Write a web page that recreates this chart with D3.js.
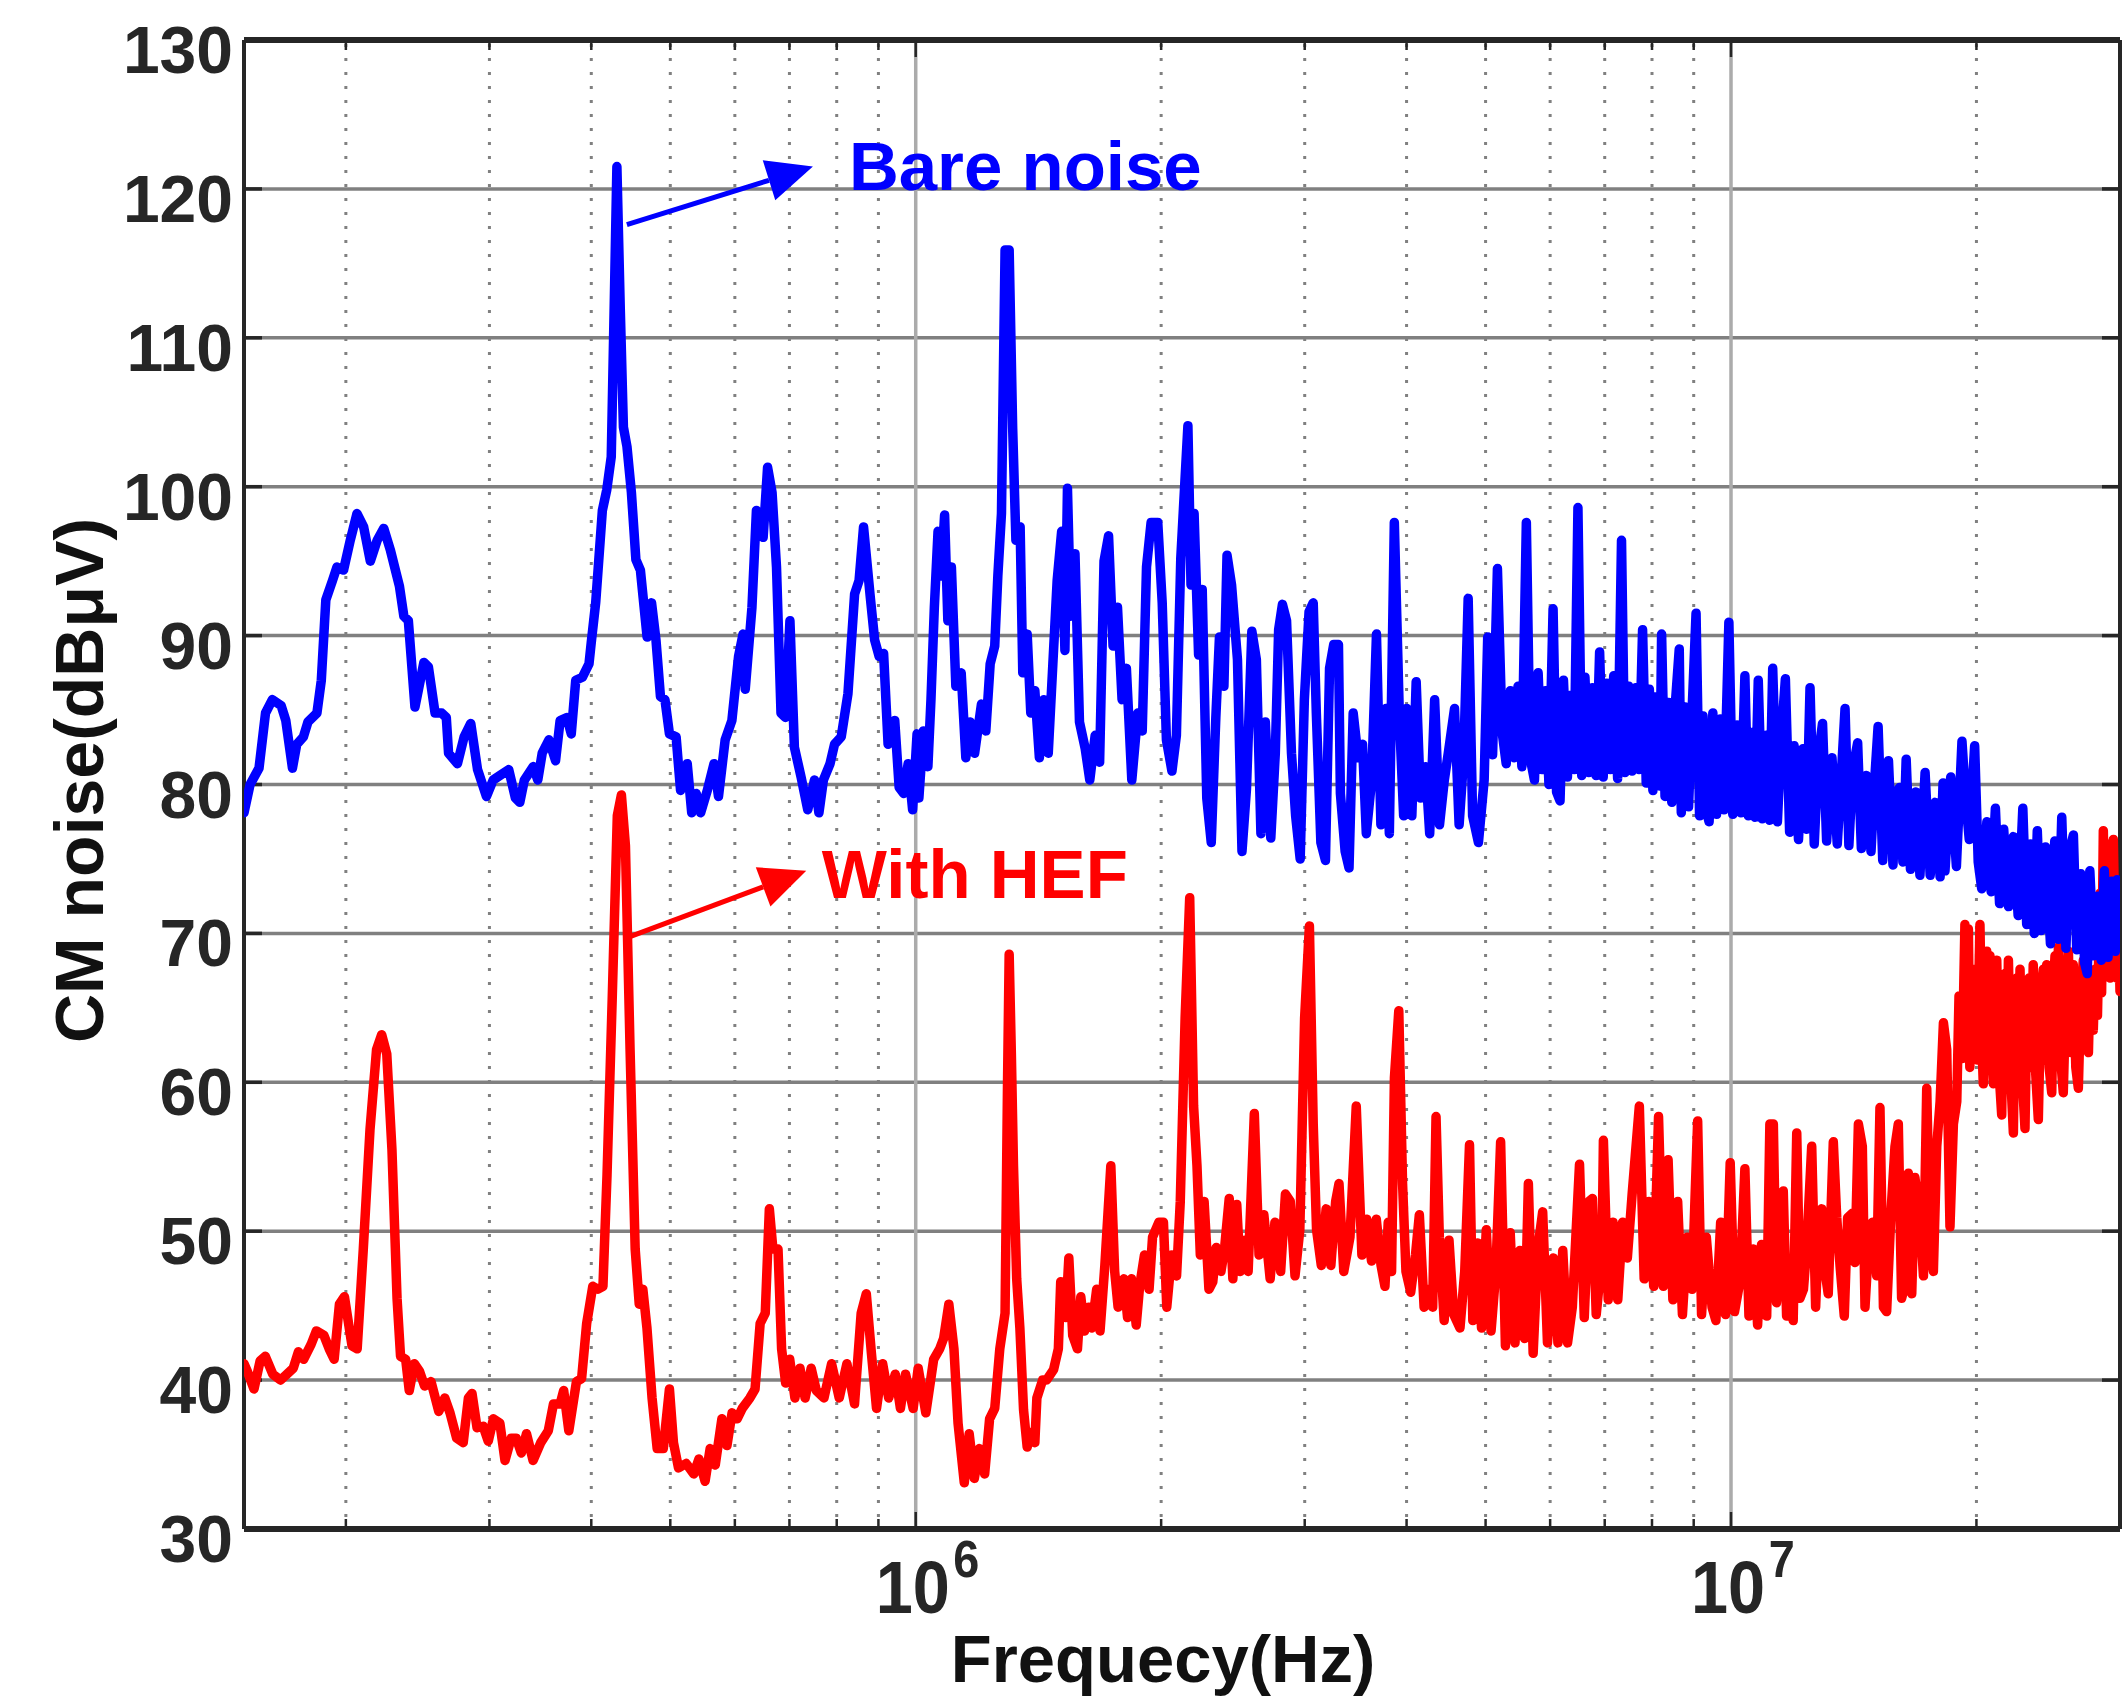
<!DOCTYPE html>
<html>
<head>
<meta charset="utf-8">
<script src="https://cdn.jsdelivr.net/npm/d3@7/dist/d3.min.js"></script>
<style>
  body { margin: 0; background: #fff; }
  text { font-family: "Liberation Sans", Arial, Helvetica, sans-serif; }
</style>
</head>
<body>
<div id="chart"></div>
<script>
// CM noise spectra: [frequency in MHz, level in dBuV]
var bareNoise = [
  [0.1500,78.1],[0.1526,80.0],[0.1565,81.1],[0.1594,84.8],[0.1625,85.7],[0.1666,85.3],[0.1688,84.3],[0.1720,81.1],
  [0.1741,82.7],[0.1774,83.2],[0.1797,84.2],[0.1843,84.8],[0.1866,87.0],[0.1890,92.4],[0.1926,93.7],[0.1950,94.6],
  [0.1987,94.4],[0.2025,96.4],[0.2064,98.2],[0.2103,97.3],[0.2143,95.0],[0.2185,96.4],[0.2226,97.2],[0.2269,95.7],
  [0.2327,93.3],[0.2356,91.3],[0.2386,91.0],[0.2431,85.2],[0.2493,88.2],[0.2525,87.9],[0.2573,84.8],[0.2622,84.8],
  [0.2656,84.5],[0.2673,82.1],[0.2741,81.4],[0.2793,83.2],[0.2846,84.1],[0.2901,81.0],[0.2975,79.2],[0.3032,80.3],
  [0.3090,80.6],[0.3168,81.0],[0.3228,79.1],[0.3269,78.8],[0.3311,80.3],[0.3395,81.2],[0.3439,80.3],[0.3482,82.1],
  [0.3549,83.0],[0.3616,81.6],[0.3663,84.3],[0.3733,84.5],[0.3780,83.4],[0.3828,87.0],[0.3900,87.2],[0.3974,88.1],
  [0.3999,89.5],[0.4050,92.2],[0.4127,98.4],[0.4179,99.8],[0.4232,102.0],[0.4260,110.0],[0.4300,121.5],[0.4341,112.0],
  [0.4380,104.0],[0.4424,102.7],[0.4480,99.6],[0.4537,95.1],[0.4595,94.4],[0.4683,89.9],[0.4742,92.2],[0.4802,89.7],
  [0.4863,85.9],[0.4925,85.7],[0.4988,83.4],[0.5083,83.2],[0.5147,79.6],[0.5245,81.4],[0.5312,78.1],[0.5379,79.4],
  [0.5447,78.1],[0.5551,79.6],[0.5657,81.4],[0.5729,79.2],[0.5838,83.0],[0.5950,84.3],[0.6063,88.6],[0.6140,90.1],
  [0.6179,86.4],[0.6297,91.9],[0.6377,98.4],[0.6499,96.6],[0.6581,101.3],[0.6665,99.6],[0.6749,94.6],[0.6835,84.8],
  [0.6922,84.5],[0.7010,91.0],[0.7099,82.5],[0.7234,80.5],[0.7372,78.3],[0.7513,80.3],[0.7608,78.1],[0.7705,80.3],
  [0.7851,81.4],[0.7951,82.7],[0.8103,83.2],[0.8258,86.1],[0.8415,92.8],[0.8522,93.7],[0.8630,97.3],[0.8795,92.6],
  [0.8905,89.7],[0.9019,88.6],[0.9133,88.8],[0.9249,82.7],[0.9425,84.3],[0.9543,79.8],[0.9665,79.4],[0.9788,81.4],
  [0.9913,78.3],[1.0038,83.4],
  [1.009,79.1],[1.022,83.6],[1.035,81.2],[1.044,85.7],[1.054,91.9],[1.065,97.0],[1.074,94.0],[1.085,98.1],
  [1.095,91.0],[1.106,94.6],[1.120,86.6],[1.137,87.5],[1.152,81.8],[1.166,84.2],[1.181,82.1],[1.204,85.4],
  [1.219,83.6],[1.234,88.1],[1.250,89.3],[1.261,94.0],[1.274,98.2],[1.287,115.9],[1.302,115.9],[1.315,103.9],
  [1.327,96.4],[1.343,97.3],[1.353,87.5],[1.370,90.1],[1.384,84.8],[1.400,86.3],[1.418,81.8],[1.436,85.7],
  [1.454,82.1],[1.473,88.1],[1.491,93.7],[1.510,97.0],[1.524,89.0],[1.535,99.9],[1.549,91.3],[1.568,95.5],
  [1.588,84.2],[1.614,82.4],[1.635,80.3],[1.660,83.3],[1.681,81.5],[1.702,95.0],[1.724,96.7],[1.746,89.3],
  [1.768,91.9],[1.791,85.7],[1.813,87.8],[1.841,80.3],[1.872,84.8],[1.896,83.6],[1.919,94.6],[1.944,97.6],
  [1.981,97.6],[2.006,92.2],[2.030,83.0],[2.062,80.9],[2.088,83.3],[2.114,95.2],[2.157,104.1],[2.176,93.4],
  [2.195,98.2],[2.223,88.7],[2.246,93.1],[2.275,79.1],[2.304,76.1],[2.334,84.5],[2.358,89.9],[2.388,86.6],
  [2.409,95.4],[2.440,93.4],[2.481,88.4],[2.513,75.5],[2.545,79.7],[2.584,90.3],[2.617,88.4],[2.651,76.7],
  [2.684,84.2],[2.726,76.4],[2.761,82.1],[2.787,90.4],[2.817,92.1],[2.850,91.0],[2.890,82.1],[2.924,77.9],
  [2.962,75.0],[2.997,85.7],[3.037,91.6],[3.073,92.2],[3.100,84.8],[3.140,76.1],[3.181,74.9],[3.218,87.8],
  [3.256,89.4],[3.300,89.4],[3.318,79.4],[3.363,75.5],[3.400,74.4],[3.440,84.8],[3.488,81.8],[3.532,82.7],
  [3.570,76.7],[3.624,80.3],[3.674,90.1],[3.720,77.3],[3.774,85.1],[3.810,76.7],[3.864,97.6],[3.920,84.5],
  [3.967,77.9],[4.000,85.1],[4.060,77.9],[4.110,86.9],[4.160,79.1],[4.220,81.2],[4.270,76.7],[4.330,85.7],
  [4.390,77.3],[4.450,80.3],[4.500,82.1],[4.580,85.1],[4.640,77.3],[4.700,81.8],[4.760,92.5],[4.820,77.9],
  [4.900,76.1],[4.980,80.3],[5.030,89.9],
  [5.10,82.0],[5.17,94.5],[5.24,83.5],[5.30,81.4],[5.36,86.3],[5.42,81.8],[5.48,86.6],[5.54,81.2],
  [5.61,97.6],[5.67,81.8],[5.74,80.3],[5.80,87.5],[5.86,81.0],[5.92,86.3],[5.98,80.0],[6.05,91.8],
  [6.11,79.5],[6.17,78.9],[6.23,87.0],[6.30,80.5],[6.36,86.0],[6.42,81.0],[6.49,98.6],[6.56,80.6],
  [6.62,87.2],[6.69,80.8],[6.76,86.5],[6.83,80.6],[6.90,88.9],[6.97,80.5],[7.04,86.8],[7.11,81.0],
  [7.18,87.3],[7.26,80.4],[7.34,96.4],[7.41,80.8],[7.49,86.6],[7.56,80.9],[7.64,86.5],[7.71,81.0],
  [7.79,90.4],[7.87,80.1],[7.94,86.4],[8.02,79.6],[8.10,85.9],[8.18,79.9],[8.22,90.1],[8.30,79.2],
  [8.38,85.5],[8.46,78.8],[8.55,85.6],[8.64,89.1],[8.69,78.1],[8.78,85.2],[8.87,78.5],[8.96,85.0],
  [9.06,91.5],[9.15,77.9],[9.24,84.6],[9.33,78.2],[9.40,77.5],[9.50,84.8],[9.60,78.0],[9.70,84.4],
  [9.80,78.3],[9.94,90.9],[10.05,78.0],[10.17,84.0],[10.28,78.1],[10.40,87.3],[10.50,77.9],[10.60,83.5],
  [10.70,77.8],[10.80,87.0],[10.92,77.7],[11.05,83.3],[11.15,77.6],[11.25,87.8],[11.40,77.5],[11.52,83.0],
  [11.66,87.1],[11.80,76.8],[11.95,82.6],[12.10,76.3],[12.25,82.4],[12.38,77.0],[12.50,86.5],[12.65,76.0],
  [12.80,82.0],[12.95,84.1],[13.10,76.2],[13.30,81.8],[13.50,76.0],[13.65,80.5],[13.80,85.1],[13.95,75.9],
  [14.10,81.0],[14.30,82.8],[14.45,75.7],[14.65,80.6],[14.85,75.5],[15.00,80.2],[15.15,83.9],[15.35,74.9],
  [15.45,80.0],[15.60,81.6],[15.80,74.6],[15.95,79.5],[16.10,79.8],[16.25,74.8],[16.40,81.7],[16.60,74.3],
  [16.85,79.5],[17.05,73.9],[17.30,80.8],[17.55,73.9],[17.80,78.8],[18.05,73.8],[18.20,80.1],[18.30,74.2],
  [18.60,80.5],[18.90,74.5],[19.20,82.9],[19.40,79.0],[19.60,76.3],[19.90,82.6],[20.10,74.8],[20.30,73.0],
  [20.60,77.5],[20.85,72.8],[21.10,78.4],[21.35,72.0],[21.60,77.0],[21.90,71.8],[22.20,76.5],[22.50,71.2],
  [22.80,78.4],[23.05,70.6],[23.30,76.0],[23.55,70.0],[23.75,76.9],[24.00,70.2],[24.30,75.8],[24.65,69.3],
  [24.95,76.2],[25.20,69.6],[25.45,77.8],[25.75,69.0],[26.00,75.5],[26.30,76.6],[26.55,68.9],[26.85,74.0],
  [27.15,68.0],[27.35,67.3],[27.55,74.2],[27.85,68.5],[28.20,72.5],[28.45,68.2],[28.70,74.2],[29.00,68.4],
  [29.30,73.5],[29.60,68.8],[29.75,73.6],[30.00,70.5]
];

var withHef = [
  [0.1500,41.1],[0.1514,40.6],[0.1543,39.4],[0.1570,41.3],[0.1593,41.6],[0.1627,40.4],[0.1663,40.0],[0.1724,40.8],
  [0.1749,41.9],[0.1775,41.4],[0.1813,42.4],[0.1840,43.3],[0.1880,43.0],[0.1908,42.1],[0.1935,41.4],[0.1964,45.1],
  [0.1992,45.6],[0.2035,42.3],[0.2065,42.1],[0.2101,48.8],[0.2141,56.8],[0.2181,62.2],[0.2213,63.2],[0.2245,61.9],
  [0.2278,55.5],[0.2311,45.5],[0.2334,41.6],[0.2368,41.4],[0.2392,39.3],[0.2427,41.1],[0.2462,40.6],[0.2498,39.6],
  [0.2544,39.9],[0.2600,37.9],[0.2645,38.8],[0.2684,37.8],[0.2735,36.1],[0.2786,35.8],[0.2827,38.8],[0.2856,39.1],
  [0.2897,36.8],[0.2947,36.9],[0.2990,35.9],[0.3034,37.4],[0.3090,37.1],[0.3135,34.6],[0.3190,36.1],[0.3236,36.1],
  [0.3283,35.1],[0.3331,36.4],[0.3394,34.6],[0.3468,35.8],[0.3543,36.6],[0.3595,38.4],[0.3663,38.4],[0.3700,39.3],
  [0.3754,36.6],[0.3836,39.9],[0.3892,40.1],[0.3948,43.8],[0.4017,46.3],[0.4075,46.1],[0.4134,46.3],[0.4182,53.8],
  [0.4243,65.5],[0.4305,77.9],[0.4355,79.3],[0.4405,75.9],[0.4463,62.2],[0.4528,48.8],[0.4580,45.1],[0.4627,46.1],
  [0.4681,43.5],[0.4749,38.8],[0.4818,35.4],[0.4902,35.4],[0.4988,39.4],[0.5045,35.8],[0.5117,34.1],[0.5229,34.4],
  [0.5343,33.7],[0.5421,34.7],[0.5516,33.2],[0.5596,35.4],[0.5677,34.3],[0.5784,37.4],[0.5868,35.6],[0.5953,37.8],
  [0.6039,37.4],[0.6127,38.1],[0.6261,38.8],[0.6352,39.4],[0.6444,43.8],[0.6538,44.5],[0.6614,51.5],[0.6681,48.8],
  [0.6778,48.8],[0.6847,42.1],[0.6926,39.8],[0.7006,41.4],[0.7109,38.8],[0.7212,40.8],[0.7317,38.8],[0.7444,40.8],
  [0.7552,39.3],[0.7717,38.8],[0.7885,41.1],[0.8057,38.8],[0.8233,41.1],[0.8413,38.4],[0.8572,44.5],[0.8697,45.8],
  [0.8824,41.8],[0.8952,38.1],[0.9109,41.1],[0.9265,38.8],[0.9440,40.4],[0.9577,38.1],[0.9716,40.4],[0.9928,38.1],
  [1.007,40.8],[1.029,37.8],[1.052,41.4],[1.070,42.1],[1.082,42.8],[1.098,45.1],[1.114,42.1],[1.127,37.1],
  [1.147,33.1],[1.163,36.4],[1.180,33.4],[1.197,35.4],[1.215,33.7],[1.232,37.4],[1.250,38.1],[1.268,42.1],
  [1.287,44.5],[1.296,60.0],[1.302,68.6],[1.310,62.0],[1.318,54.4],[1.330,46.8],[1.342,43.5],[1.356,38.0],
  [1.370,35.5],[1.385,36.5],[1.400,35.8],[1.408,38.8],[1.431,40.0],[1.447,40.0],[1.476,40.7],[1.496,42.1],
  [1.506,46.6],[1.527,44.2],[1.541,48.2],[1.558,43.0],[1.579,42.1],[1.594,45.6],[1.611,43.3],[1.629,44.9],
  [1.644,43.5],[1.667,46.1],[1.683,43.3],[1.706,47.7],[1.735,54.4],[1.754,47.3],[1.771,44.9],[1.800,46.8],
  [1.819,44.2],[1.839,46.8],[1.864,43.7],[1.882,46.3],[1.908,48.4],[1.933,46.1],[1.952,49.6],[1.987,50.6],
  [2.013,50.6],[2.032,44.9],[2.060,48.4],[2.089,47.0],[2.111,52.0],[2.140,64.3],[2.168,72.4],[2.192,58.4],
  [2.213,54.4],[2.234,48.4],[2.258,52.0],[2.289,46.1],[2.314,46.6],[2.336,48.9],[2.368,47.3],[2.391,48.7],
  [2.424,52.2],[2.449,46.8],[2.476,51.8],[2.500,47.3],[2.533,49.4],[2.557,47.3],[2.602,57.9],[2.637,48.4],
  [2.673,51.1],[2.721,46.8],[2.758,50.6],[2.803,47.3],[2.841,52.5],[2.880,52.0],[2.919,47.0],[2.959,50.1],
  [2.999,64.3],[3.040,70.5],[3.073,57.2],[3.102,50.1],[3.144,47.7],[3.187,51.5],[3.230,47.7],[3.274,52.0],
  [3.305,53.2],[3.350,47.3],[3.409,49.6],[3.470,58.4],[3.526,48.4],[3.574,50.8],[3.623,48.0],[3.672,50.8],
  [3.722,47.7],[3.763,46.3],[3.798,50.6],[3.834,47.3],[3.865,60.3],[3.913,64.8],[3.955,53.2],[3.993,47.3],
  [4.047,45.9],[4.102,48.4],[4.147,51.1],[4.203,44.9],[4.260,46.1],[4.306,44.9],[4.347,57.7],[4.388,49.6],
  [4.448,44.0],[4.509,49.4],[4.570,44.4],[4.651,43.5],[4.714,47.3],[4.778,55.8],[4.823,44.0],[4.889,49.2],
  [4.943,43.5],[5.010,50.1],[5.078,43.3],[5.147,47.3],[5.217,56.0],[5.288,42.3],[5.360,49.9],[5.433,42.5],
  [5.507,48.7],[5.582,42.8],[5.642,53.2],[5.719,41.8],[5.797,48.9],[5.875,51.3],[5.955,42.5],[6.052,48.2],
  [6.134,42.5],[6.218,48.7],[6.302,42.5],[6.388,44.9],[6.519,54.5],[6.607,44.2],[6.697,52.0],[6.761,52.2],
  [6.834,44.4],[6.946,48.4],[6.974,56.1],[7.069,45.4],[7.166,50.6],[7.263,45.4],[7.362,50.6],[7.462,48.2],
  [7.564,52.5],[7.719,58.4],[7.825,46.8],[7.931,52.0],[8.039,46.3],[8.149,57.7],[8.259,46.3],[8.372,54.8],
  [8.486,45.4],[8.601,52.0],[8.718,44.4],[8.837,49.6],[8.955,46.1],[9.101,57.4],[9.202,44.4],[9.326,49.6],
  [9.479,44.9],[9.582,44.0],[9.712,50.6],[9.844,44.4],[9.977,54.6],[10.10,44.6],[10.26,46.7],[10.40,54.2],
  [10.52,44.3],[10.65,48.8],[10.78,43.7],[10.90,49.1],[11.06,44.3],[11.16,57.2],[11.27,57.2],[11.37,45.2],
  [11.48,47.3],[11.59,52.7],[11.70,44.3],[11.81,46.1],[11.92,44.0],[12.04,56.6],[12.15,45.5],[12.27,46.1],
  [12.38,48.8],[12.56,55.7],[12.70,44.9],[12.80,49.7],[12.92,51.5],[13.04,47.3],[13.16,45.8],[13.35,56.0],
  [13.48,50.9],[13.61,47.6],[13.77,44.3],[13.90,50.9],[14.09,51.2],[14.19,47.9],[14.33,57.2],[14.49,55.7],
  [14.60,44.9],[14.77,49.7],[14.91,50.6],[15.09,47.0],[15.23,58.3],[15.38,44.9],[15.52,44.6],[15.71,51.2],
  [15.89,55.7],[16.04,57.2],[16.19,45.5],[16.35,46.4],[16.50,53.9],[16.66,45.8],[16.81,53.6],[17.05,50.9],
  [17.22,47.0],[17.38,59.6],[17.55,48.8],[17.71,47.3],[17.88,55.7],[18.05,58.7],[18.22,64.0],[18.39,62.2],
  [18.56,50.3],[18.74,57.2],[18.92,58.7],[19.04,65.8],[19.22,61.6],[19.36,70.6],[19.45,64.0],[19.55,70.3],
  [19.63,61.0],[19.73,66.0],[19.82,62.5],[19.92,67.6],[20.05,61.5],[20.20,70.6],[20.30,63.0],[20.39,59.9],
  [20.49,66.0],[20.59,68.8],[20.68,62.0],[20.78,68.5],[20.88,62.5],[20.98,59.9],[21.08,66.5],[21.18,68.2],
  [21.33,60.5],[21.48,57.8],[21.58,66.0],[21.68,67.3],[21.78,61.0],[21.89,68.2],[22.05,60.0],[22.20,56.6],
  [22.30,65.5],[22.41,67.0],[22.51,60.5],[22.62,67.6],[22.78,60.0],[22.94,56.9],[23.07,65.5],[23.20,67.0],
  [23.34,61.0],[23.48,67.9],[23.65,60.5],[23.82,57.5],[24.00,66.0],[24.16,67.6],[24.28,61.5],[24.39,67.9],
  [24.56,61.0],[24.74,59.3],[24.86,66.5],[24.97,68.5],[25.09,62.5],[25.21,69.1],[25.38,61.5],[25.56,59.3],
  [25.75,66.0],[25.93,68.8],[26.11,62.0],[26.29,67.9],[26.48,61.0],[26.67,59.6],[26.86,66.0],[27.05,68.2],
  [27.25,63.0],[27.44,62.0],[27.56,66.5],[27.69,67.0],[27.82,63.5],[27.96,67.6],[28.15,64.5],[28.35,72.7],
  [28.48,66.0],[28.62,76.9],[28.75,70.0],[28.89,76.0],[29.02,69.0],[29.16,67.0],[29.30,73.0],[29.44,76.3],
  [29.58,70.0],[29.72,67.0],[29.85,72.0],[30.00,66.1]
];

// axis setup
var freqRange = [0.15, 30];           // MHz
var levelTicks = [30, 40, 50, 60, 70, 80, 90, 100, 110, 120, 130];
var decadeTicks = [1, 10];            // 10^6 and 10^7 Hz, in MHz
var decadeExp = ["6", "7"];
var minorTicks = [0.2, 0.3, 0.4, 0.5, 0.6, 0.7, 0.8, 0.9, 2, 3, 4, 5, 6, 7, 8, 9, 20];

// annotations: arrow from the peak toward the label, [MHz, dBuV]
var labels = [
  {text: "Bare noise", color: "#0000ff", at: [0.828, 119.9], from: [0.4423, 117.6], to: [0.748, 121.5]},
  {text: "With HEF",   color: "#ff0000", at: [0.767, 72.4],  from: [0.447, 69.8],   to: [0.734, 74.2]}
];

var W = 2124, H = 1700;
var margin = {top: 40, right: 4, bottom: 171, left: 244};
var inkDark = "#262626";
var LINE_W = 9.5;

var svg = d3.select("#chart").append("svg")
    .attr("width", W)
    .attr("height", H)
    .style("display", "block");

svg.append("rect").attr("width", W).attr("height", H).attr("fill", "#fff");

var x = d3.scaleLog()
    .domain(freqRange)
    .range([margin.left, W - margin.right]);

var y = d3.scaleLinear()
    .domain([30, 130])
    .range([H - margin.bottom, margin.top]);

var x0 = x.range()[0], x1 = x.range()[1];
var y0 = y.range()[0], y1 = y.range()[1];

// grid - horizontal solid, decades solid light, minor dotted
var grid = svg.append("g").attr("class", "grid");

grid.selectAll(".hgrid")
    .data(levelTicks.slice(1, -1))
    .enter().append("line")
    .attr("x1", x0).attr("x2", x1)
    .attr("y1", function (d) { return y(d); })
    .attr("y2", function (d) { return y(d); })
    .attr("stroke", "#808080")
    .attr("stroke-width", 3.5);

grid.selectAll(".vmajor")
    .data(decadeTicks)
    .enter().append("line")
    .attr("x1", function (d) { return x(d); })
    .attr("x2", function (d) { return x(d); })
    .attr("y1", y1).attr("y2", y0)
    .attr("stroke", "#ababab")
    .attr("stroke-width", 3.5);

grid.selectAll(".vminor")
    .data(minorTicks)
    .enter().append("line")
    .attr("x1", function (d) { return x(d); })
    .attr("x2", function (d) { return x(d); })
    .attr("y1", y1 + 4).attr("y2", y0)
    .attr("stroke", "#808080")
    .attr("stroke-width", 3)
    .attr("stroke-dasharray", "3,11");

// frame and inward ticks
var frame = svg.append("g").attr("class", "frame")
    .attr("stroke", inkDark);

frame.append("line").attr("x1", x0).attr("x2", x1).attr("y1", y1).attr("y2", y1).attr("stroke-width", 6);
frame.append("line").attr("x1", x0).attr("x2", x1).attr("y1", y0).attr("y2", y0).attr("stroke-width", 6);
frame.append("line").attr("x1", x0).attr("x2", x0).attr("y1", y1).attr("y2", y0).attr("stroke-width", 4);
frame.append("line").attr("x1", x1).attr("x2", x1).attr("y1", y1).attr("y2", y0).attr("stroke-width", 4);

levelTicks.forEach(function (v) {
  frame.append("line").attr("x1", x0).attr("x2", x0 + 18)
      .attr("y1", y(v)).attr("y2", y(v)).attr("stroke-width", 3.5);
  frame.append("line").attr("x1", x1).attr("x2", x1 - 18)
      .attr("y1", y(v)).attr("y2", y(v)).attr("stroke-width", 3.5);
});

decadeTicks.concat(minorTicks).forEach(function (f) {
  var len = decadeTicks.indexOf(f) >= 0 ? 17 : 10;
  frame.append("line").attr("x1", x(f)).attr("x2", x(f))
      .attr("y1", y0).attr("y2", y0 - len).attr("stroke-width", 2.5);
  frame.append("line").attr("x1", x(f)).attr("x2", x(f))
      .attr("y1", y1).attr("y2", y1 + len).attr("stroke-width", 2.5);
});

// spectra
svg.append("clipPath").attr("id", "plotClip")
    .append("rect")
    .attr("x", x0).attr("y", y1)
    .attr("width", x1 - x0).attr("height", y0 - y1);

var line = d3.line()
    .x(function (d) { return x(d[0]); })
    .y(function (d) { return y(d[1]); });

var curves = svg.append("g").attr("clip-path", "url(#plotClip)");

curves.append("path")
    .datum(withHef)
    .attr("d", line)
    .attr("fill", "none")
    .attr("stroke", "#ff0000")
    .attr("stroke-width", LINE_W)
    .attr("stroke-linejoin", "round")
    .attr("stroke-linecap", "round");

curves.append("path")
    .datum(bareNoise)
    .attr("d", line)
    .attr("fill", "none")
    .attr("stroke", "#0000ff")
    .attr("stroke-width", LINE_W)
    .attr("stroke-linejoin", "round")
    .attr("stroke-linecap", "round");

// y tick labels
svg.append("g").selectAll("text")
    .data(levelTicks)
    .enter().append("text")
    .attr("x", x0 - 11)
    .attr("y", function (d) { return y(d) + 33; })
    .attr("text-anchor", "end")
    .attr("font-size", 66)
    .attr("font-weight", "bold")
    .attr("fill", inkDark)
    .text(function (d) { return d; });

// x tick labels as 10^n, one text each, squeezed a little like the original
var xl = svg.append("g").selectAll("text")
    .data(decadeTicks)
    .enter().append("text")
    .attr("transform", function (d) { return "translate(" + (x(d) - 40) + ",1613) scale(0.9,1)"; })
    .attr("font-size", 74)
    .attr("font-weight", "bold")
    .attr("fill", inkDark);

xl.append("tspan").text("10");

xl.append("tspan")
    .attr("dx", 4)
    .attr("dy", -36)
    .attr("font-size", 52)
    .text(function (d, i) { return decadeExp[i]; });

// axis titles
svg.append("text")
    .attr("x", 1163)
    .attr("y", 1682)
    .attr("text-anchor", "middle")
    .attr("font-size", 67)
    .attr("font-weight", "bold")
    .attr("fill", "#111")
    .text("Frequecy(Hz)");

svg.append("text")
    .attr("transform", "translate(103," + ((y0 + y1) / 2 - 4) + ") rotate(-90)")
    .attr("text-anchor", "middle")
    .attr("font-size", 68)
    .attr("font-weight", "bold")
    .attr("fill", "#111")
    .text("CM noise(dBμV)");

// arrows + labels
labels.forEach(function (a) {
  var sx = x(a.from[0]), sy = y(a.from[1]);
  var tx = x(a.to[0]), ty = y(a.to[1]);
  var ang = Math.atan2(ty - sy, tx - sx);
  var headLen = 46, headHalf = 21;
  var bx = tx - headLen * Math.cos(ang), by = ty - headLen * Math.sin(ang);
  var px = -Math.sin(ang) * headHalf, py = Math.cos(ang) * headHalf;

  svg.append("line")
      .attr("x1", sx).attr("y1", sy)
      .attr("x2", bx).attr("y2", by)
      .attr("stroke", a.color)
      .attr("stroke-width", 5);

  svg.append("polygon")
      .attr("points", [[tx, ty], [bx + px, by + py], [bx - px, by - py]].map(function (p) { return p.join(","); }).join(" "))
      .attr("fill", a.color);

  svg.append("text")
      .attr("x", x(a.at[0]))
      .attr("y", y(a.at[1]))
      .attr("font-size", 69)
      .attr("font-weight", "bold")
      .attr("fill", a.color)
      .text(a.text);
});
</script>
</body>
</html>
